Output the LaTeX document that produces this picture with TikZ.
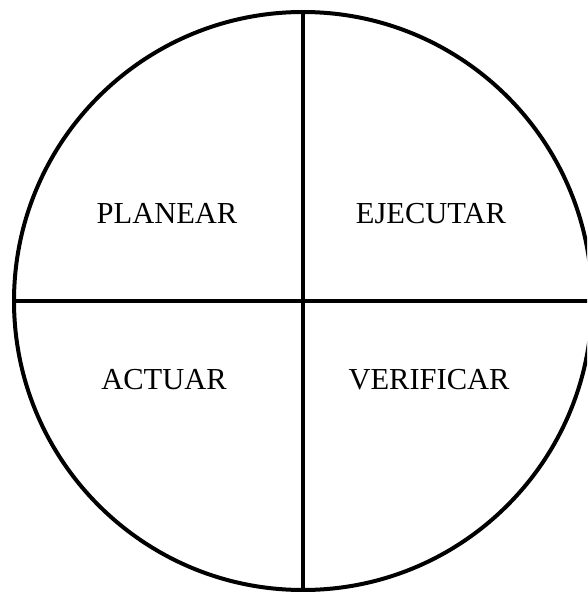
\documentclass[tikz,border=0pt]{standalone}
\usepackage{fontspec}
\setmainfont{Liberation Serif}
\begin{document}
\begin{tikzpicture}[x=1pt,y=-1pt,
  lbl/.style={anchor=base,font=\fontsize{30.5}{36}\selectfont,inner sep=0pt},
  ring/.style={draw=black,line width=4pt,circle,minimum size=578pt,inner sep=0pt},
  divider/.style={draw=black,line width=4pt}]
\useasboundingbox (0,0) rectangle (587,592);
\clip (0,0) rectangle (587,592);
\node[ring] (c) at (303,301) {};
\draw[divider] (c.north) -- (c.south);
\draw[divider] (c.west) -- (c.east);
\node[lbl] (plan) at (167,223) {PLANEAR};
\node[lbl] (ejec) at (431,223) {EJECUTAR};
\node[lbl] (act) at (164,389) {ACTUAR};
\node[lbl] (ver) at (429,389) {VERIFICAR};
\end{tikzpicture}
\end{document}
